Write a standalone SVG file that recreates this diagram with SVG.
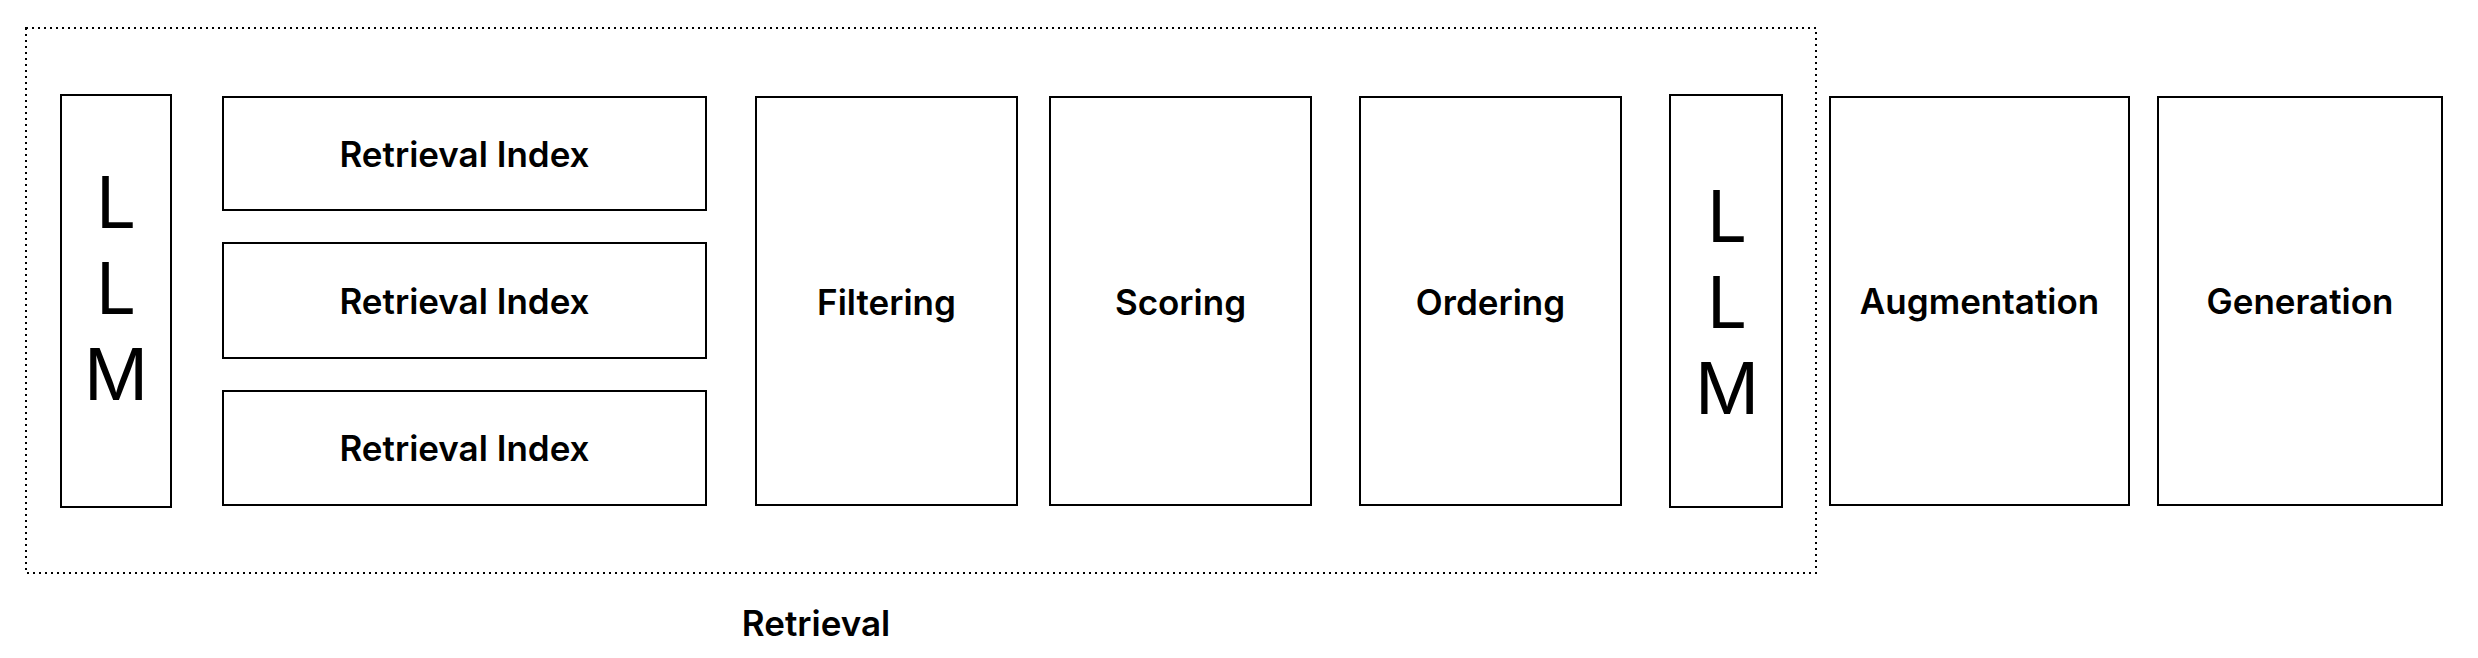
<svg xmlns="http://www.w3.org/2000/svg" width="2478" height="658" viewBox="0 0 2478 658">
<style>
.box{fill:#fff;stroke:#000;stroke-width:2}
.grp{fill:none;stroke:#000;stroke-width:2;stroke-dasharray:2 4}
.lbl{font-family:Inter,"Liberation Sans",sans-serif;font-weight:600;font-size:35px;fill:#000;text-anchor:middle}
.big{font-family:Inter,"Liberation Sans",sans-serif;font-weight:400;font-size:71px;fill:#000;text-anchor:middle}
</style>
<rect width="2478" height="658" fill="#fff"/>
<g id="retrieval-group">
<rect class="grp" x="26" y="28" width="1790" height="545"/>
<text class="lbl" x="816" y="636">Retrieval</text>
</g>
<g id="llm1">
<rect class="box" x="61" y="95" width="110" height="412"/>
<text class="big" x="116" y="228">L</text>
<text class="big" x="116" y="314">L</text>
<text class="big" x="116" y="400">M</text>
</g>
<g id="index1">
<rect class="box" x="223" y="97" width="483" height="113"/>
<text class="lbl" x="464.5" y="167">Retrieval Index</text>
</g>
<g id="index2">
<rect class="box" x="223" y="243" width="483" height="115"/>
<text class="lbl" x="464.5" y="314">Retrieval Index</text>
</g>
<g id="index3">
<rect class="box" x="223" y="391" width="483" height="114"/>
<text class="lbl" x="464.5" y="461">Retrieval Index</text>
</g>
<g id="filtering">
<rect class="box" x="756" y="97" width="261" height="408"/>
<text class="lbl" x="886.5" y="315">Filtering</text>
</g>
<g id="scoring">
<rect class="box" x="1050" y="97" width="261" height="408"/>
<text class="lbl" x="1180.5" y="315">Scoring</text>
</g>
<g id="ordering">
<rect class="box" x="1360" y="97" width="261" height="408"/>
<text class="lbl" x="1490.5" y="315">Ordering</text>
</g>
<g id="llm2">
<rect class="box" x="1670" y="95" width="112" height="412"/>
<text class="big" x="1727" y="242">L</text>
<text class="big" x="1727" y="328">L</text>
<text class="big" x="1727" y="414">M</text>
</g>
<g id="augmentation">
<rect class="box" x="1830" y="97" width="299" height="408"/>
<text class="lbl" x="1979.5" y="314">Augmentation</text>
</g>
<g id="generation">
<rect class="box" x="2158" y="97" width="284" height="408"/>
<text class="lbl" x="2300" y="314">Generation</text>
</g>
<g id="connectors"></g>
</svg>
